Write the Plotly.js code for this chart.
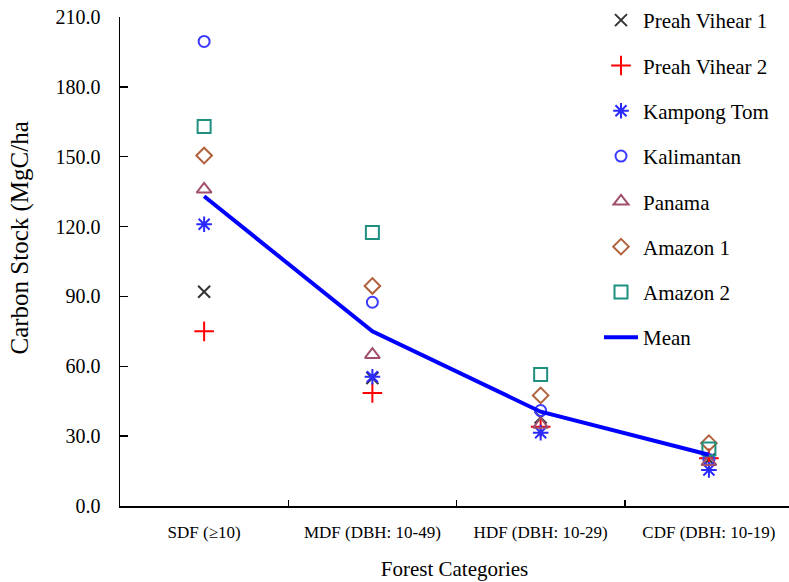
<!DOCTYPE html>
<html>
<head>
<meta charset="utf-8">
<script src="https://cdn.plot.ly/plotly-3.0.1.min.js"></script>
<style>html,body{margin:0;padding:0;background:#fff;}</style>
</head>
<body>
<div id="chart" style="width:789px;height:582px;"></div>
<script>
var categories = ['SDF (\u226510)', 'MDF (DBH: 10-49)', 'HDF (DBH: 10-29)', 'CDF (DBH: 10-19)'];
var preahVihear1 = [92, 55, 38, 20];
var preahVihear2 = [75, 48.5, 34, 20.5];
var kampongTom = [121, 55.5, 31.5, 15.5];
var kalimantan = [199.5, 87.5, 41, 20];
var panama = [136, 65, 35, 19];
var amazon1 = [150.5, 94.5, 47.5, 27];
var amazon2 = [163, 117.5, 56.5, 24.5];
var meanValues = [133, 75, 40.5, 22];
var yTickVals = [0, 30, 60, 90, 120, 150, 180, 210];

var FONT = 'Liberation Serif, Times New Roman, serif';

function pts(name, vals, symbol, color, size, lw) {
  return {
    type: 'scatter', mode: 'markers', name: name, x: categories, y: vals,
    legendgroup: name,
    marker: {symbol: symbol, size: size, color: color,
             line: {color: color, width: lw}}
  };
}

var traces = [
  pts('Preah Vihear 1', preahVihear1, 'x-thin-open', '#333333', 12, 2),
  pts('Preah Vihear 2', preahVihear2, 'cross-thin-open', '#ff0000', 14, 2),
  pts('Kampong Tom', kampongTom, 'asterisk-open', '#2a2aff', 13, 2),
  pts('Kalimantan', kalimantan, 'circle-open', '#3b3bff', 11, 2),
  pts('Panama', panama, 'triangle-up-open', '#a0506e', 13, 2),
  pts('Amazon 1', amazon1, 'diamond-open', '#b0603a', 12, 2),
  pts('Amazon 2', amazon2, 'square-open', '#1f8f80', 13, 2),
  {type: 'scatter', mode: 'lines', name: 'Mean', x: categories, y: meanValues,
   legendgroup: 'Mean', line: {color: '#0000ff', width: 4}}
];

var layout = {
  width: 789, height: 582,
  margin: {l: 120, r: 0, t: 16, b: 76, pad: 0},
  paper_bgcolor: '#ffffff', plot_bgcolor: '#ffffff',
  font: {family: FONT, color: '#000', size: 17},
  showlegend: true,
  legend: {x: 0.716, y: 1.035, xanchor: 'left', yanchor: 'top',
           font: {family: FONT, size: 21, color: '#000'},
           bgcolor: 'rgba(0,0,0,0)', tracegroupgap: 15, itemwidth: 34,
           maxheight: 600},
  xaxis: {type: 'category', range: [-0.5, 3.476], tickson: 'boundaries',
          ticks: 'inside', ticklen: 6, tickwidth: 1.5, tickcolor: '#000',
          showline: true, linecolor: '#000', linewidth: 1.5,
          showgrid: false, zeroline: false,
          tickfont: {family: FONT, size: 17, color: '#000'},
          ticklabelstandoff: 10,
          title: {text: 'Forest Categories', font: {family: FONT, size: 21, color: '#000'}, standoff: 20},
          automargin: false},
  yaxis: {range: [0, 210], tickvals: yTickVals, tickformat: '.1f',
          ticks: 'inside', ticklen: 8, tickwidth: 1.5, tickcolor: '#000',
          showline: true, linecolor: '#000', linewidth: 1.5,
          showgrid: false, zeroline: false,
          tickfont: {family: FONT, size: 20, color: '#000'},
          ticklabelstandoff: 14, automargin: false},
  annotations: [{text: 'Carbon Stock (MgC/ha', xref: 'paper', yref: 'paper',
                 x: -0.1495, y: 0.549, xanchor: 'center', yanchor: 'middle',
                 textangle: -90, showarrow: false,
                 font: {family: FONT, size: 25, color: '#000'}}]
};

Plotly.newPlot('chart', traces, layout, {displayModeBar: false, staticPlot: true});
</script>
</body>
</html>
